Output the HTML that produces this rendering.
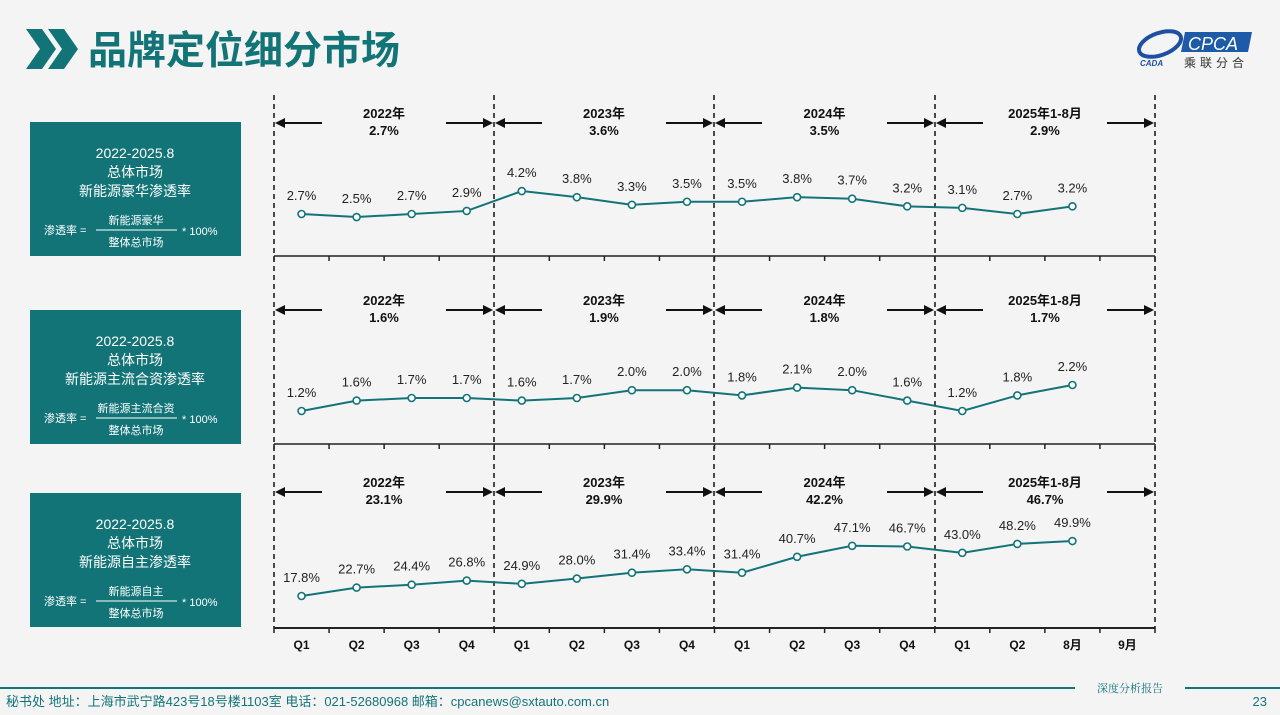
<!DOCTYPE html>
<html><head><meta charset="utf-8"><style>
body{margin:0;width:1280px;height:715px;overflow:hidden;background:#f4f4f4;font-family:"Liberation Sans","Noto Sans CJK SC",sans-serif}
svg{position:absolute;left:0;top:0}
</style></head><body>
<svg id="s" width="1280" height="715" xmlns="http://www.w3.org/2000/svg" font-family="Liberation Sans, Noto Sans CJK SC, sans-serif">
<polygon points="26,29 42,29 56,49 42,69 26,69 40,49" fill="#137478"/>
<polygon points="48,29 64,29 78,49 64,69 48,69 62,49" fill="#137478"/>
<text x="88" y="64" font-size="39" font-weight="bold" fill="#137478" font-family="Noto Sans CJK SC, sans-serif">品牌定位细分市场</text>
<ellipse cx="1160" cy="44" rx="22" ry="11" fill="none" stroke="#1d4fa3" stroke-width="4" transform="rotate(-20 1160 44)"/>
<text x="1140" y="66" font-size="8" font-style="italic" font-weight="bold" fill="#1d4fa3">CADA</text>
<polygon points="1185,32 1252,32 1248,52 1181,52" fill="#1d5aa8"/>
<text x="1188" y="50" font-size="18" font-style="italic" fill="#fff">CPCA</text>
<text x="1184" y="67" font-size="12" fill="#333" letter-spacing="4" font-family="Noto Sans CJK SC, sans-serif">乘联分合</text>
<g id="g"></g>
<line x1="0" y1="688" x2="1075" y2="688" stroke="#137478" stroke-width="2"/>
<line x1="1185" y1="688" x2="1280" y2="688" stroke="#137478" stroke-width="2"/>
<text x="1130" y="692" font-size="11" text-anchor="middle" fill="#137478" font-family="Noto Serif CJK SC, serif">深度分析报告</text>
<text x="6" y="706" font-size="13" fill="#137478">秘书处   地址：上海市武宁路423号18号楼1103室  电话：021-52680968   邮箱：cpcanews@sxtauto.com.cn</text>
<text x="1267" y="706" font-size="13" text-anchor="end" fill="#137478">23</text>
</svg>
<script>
var g=document.getElementById('g'),h='';
var X0=274,W=881/16;
function cx(i){return X0+W*(i+0.5)}
var T='#137478';
var boxes=[
[122,['2022-2025.8','总体市场','新能源豪华渗透率'],'新能源豪华'],
[310,['2022-2025.8','总体市场','新能源主流合资渗透率'],'新能源主流合资'],
[493,['2022-2025.8','总体市场','新能源自主渗透率'],'新能源自主']];
boxes.forEach(function(b){
 var y=b[0];h+='<rect x="30" y="'+y+'" width="211" height="134" fill="'+T+'"/>';
 b[1].forEach(function(t,k){h+='<text x="135" y="'+(y+36+k*19)+'" font-size="14" fill="#fff" text-anchor="middle">'+t+'</text>'});
 var fy=y+108;
 h+='<text x="44" y="'+(fy+4)+'" font-size="11" fill="#fff">渗透率 =</text>';
 h+='<line x1="96" y1="'+fy+'" x2="177" y2="'+fy+'" stroke="#fff"/>';
 h+='<text x="136" y="'+(fy-6)+'" font-size="11" fill="#fff" text-anchor="middle">'+b[2]+'</text>';
 h+='<text x="136" y="'+(fy+16)+'" font-size="11" fill="#fff" text-anchor="middle">整体总市场</text>';
 h+='<text x="182" y="'+(fy+5)+'" font-size="11" fill="#fff">* 100%</text>';
});
[274,494,714,935,1155].forEach(function(x){h+='<line x1="'+x+'" y1="95" x2="'+x+'" y2="628" stroke="#111" stroke-width="1.5" stroke-dasharray="5,4"/>'});
[256,444,628].forEach(function(y){h+='<line x1="274" y1="'+y+'" x2="1155" y2="'+y+'" stroke="#222" stroke-width="'+(y==628?2:1.5)+'"/>';
 for(var i=0;i<=16;i++){var x=X0+W*i;h+='<line x1="'+x+'" y1="'+y+'" x2="'+x+'" y2="'+(y+5)+'" stroke="#222" stroke-width="1.5"/>';}});
var Q=['Q1','Q2','Q3','Q4','Q1','Q2','Q3','Q4','Q1','Q2','Q3','Q4','Q1','Q2','8月','9月'];
Q.forEach(function(q,i){h+='<text x="'+cx(i)+'" y="649" font-size="12" font-weight="bold" text-anchor="middle" fill="#111">'+q+'</text>'});
var P=[
{ay:123,yrs:['2.7%','3.6%','3.5%','2.9%'],d:[2.7,2.5,2.7,2.9,4.2,3.8,3.3,3.5,3.5,3.8,3.7,3.2,3.1,2.7,3.2],f:function(v){return 214-15.3*(v-2.7)}},
{ay:310,yrs:['1.6%','1.9%','1.8%','1.7%'],d:[1.2,1.6,1.7,1.7,1.6,1.7,2.0,2.0,1.8,2.1,2.0,1.6,1.2,1.8,2.2],f:function(v){return 411-26*(v-1.2)}},
{ay:492,yrs:['23.1%','29.9%','42.2%','46.7%'],d:[17.8,22.7,24.4,26.8,24.9,28.0,31.4,33.4,31.4,40.7,47.1,46.7,43.0,48.2,49.9],f:function(v){return 596-1.713*(v-17.8)}}];
var B=[274,494,714,935,1155],Y=['2022年','2023年','2024年','2025年1-8月'];
P.forEach(function(p){
 for(var k=0;k<4;k++){var a=B[k],b=B[k+1],m=(a+b)/2,y=p.ay;
  h+='<line x1="'+(a+8)+'" y1="'+y+'" x2="'+(a+48)+'" y2="'+y+'" stroke="#111" stroke-width="2"/><polygon points="'+(a+1)+','+y+' '+(a+11)+','+(y-5)+' '+(a+11)+','+(y+5)+'" fill="#111"/>';
  h+='<line x1="'+(b-48)+'" y1="'+y+'" x2="'+(b-8)+'" y2="'+y+'" stroke="#111" stroke-width="2"/><polygon points="'+(b-1)+','+y+' '+(b-11)+','+(y-5)+' '+(b-11)+','+(y+5)+'" fill="#111"/>';
  h+='<text x="'+m+'" y="'+(y-5)+'" font-size="13" font-weight="bold" text-anchor="middle" fill="#111">'+Y[k]+'</text>';
  h+='<text x="'+m+'" y="'+(y+12)+'" font-size="13" font-weight="bold" text-anchor="middle" fill="#111">'+p.yrs[k]+'</text>';}
 var pts=p.d.map(function(v,i){return cx(i)+','+p.f(v)}).join(' ');
 h+='<polyline points="'+pts+'" fill="none" stroke="'+T+'" stroke-width="2"/>';
 p.d.forEach(function(v,i){var y=p.f(v);h+='<circle cx="'+cx(i)+'" cy="'+y+'" r="3.5" fill="#fff" stroke="'+T+'" stroke-width="1.6"/><text x="'+cx(i)+'" y="'+(y-14)+'" font-size="13" text-anchor="middle" fill="#222">'+v.toFixed(1)+'%</text>'});
});
g.innerHTML=h;
</script>
</body></html>
